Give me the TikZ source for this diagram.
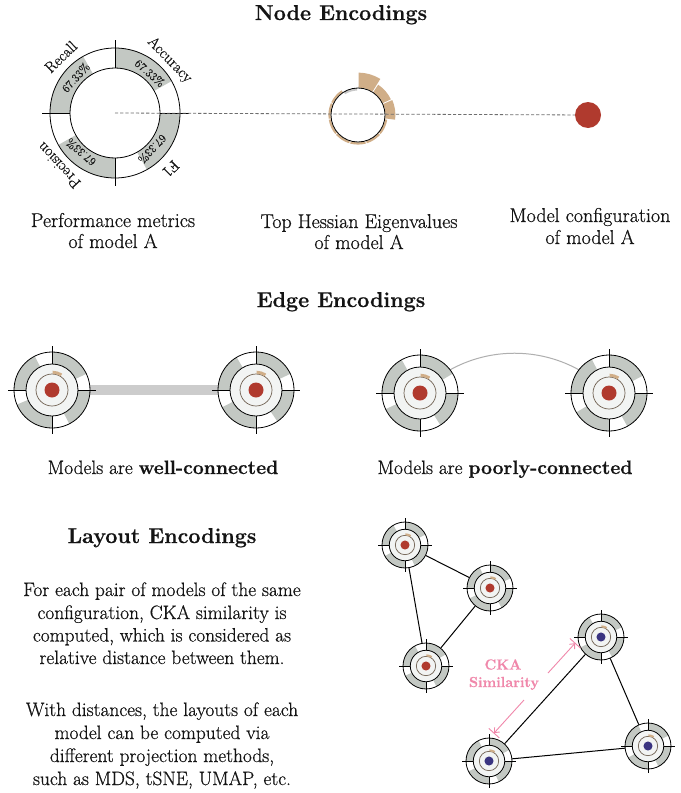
\documentclass[tikz,border=0pt]{standalone}
\usepackage{fontspec}
\setmainfont{Latin Modern Roman}[FakeBold=0.6]
\usetikzlibrary{arrows.meta,calc}
\definecolor{segfill}{RGB}{195,200,195}
\definecolor{innerfill}{RGB}{242,244,243}
\definecolor{tanbar}{RGB}{208,174,136}
\definecolor{reddot}{RGB}{176,58,46}
\definecolor{bluedot}{RGB}{58,52,128}
\definecolor{ckapink}{RGB}{240,135,170}
\definecolor{edgegray}{RGB}{204,204,204}
\definecolor{curvegray}{RGB}{175,175,175}
\definecolor{dashgray}{RGB}{110,110,110}
\definecolor{hessgray}{RGB}{200,200,200}
\definecolor{hessline}{RGB}{110,95,80}
\definecolor{txt}{RGB}{20,20,20}
\pgfdeclarelayer{bg}
\pgfsetlayers{bg,main}
\newcommand{\titlefont}{\fontsize{21.5bp}{25bp}\selectfont\bfseries}
\newcommand{\capfont}{\fontsize{20bp}{24bp}\selectfont}
\newcommand{\bodyfont}{\fontsize{19.4bp}{23bp}\selectfont}
\newcommand{\mnode}[9]{%
  \begin{scope}[shift={(#2,-#3)}, scale=#4]
    \fill[white] (0,0) circle (38);
    \foreach \q/\f in {90/#5, 0/#6, -90/#7, 180/#8} {
      \pgfmathsetmacro\qe{\q-90*\f}
      \fill[segfill] (\q:26) arc[start angle=\q, end angle=\qe, radius=26]
        -- (\qe:38) arc[start angle=\qe, end angle=\q, radius=38] -- cycle;
    }
    \fill[innerfill] (0,0) circle (26);
    \draw[ring] (0,0) circle (38) (0,0) circle (26);
    \draw[ring] (0,26) -- (0,44) (0,-26) -- (0,-44) (26,0) -- (44,0) (-26,0) -- (-44,0);
    \draw[hessline, line width=0.7bp] (0,0) circle (16);
    \fill[tanbar] (88:16.3) arc[start angle=88, end angle=58, radius=16.3]
      -- (58:19.3) arc[start angle=58, end angle=88, radius=19.3] -- cycle;
    \fill[#9] (0,0) circle (7.5);
  \end{scope}
  \pgfmathsetmacro\nsz{76*#4}
  \node[circle, minimum size=\nsz bp, inner sep=0pt] (#1) at (#2,-#3) {};
}
\begin{document}
\begin{tikzpicture}[x=1bp, y=1bp,
  ring/.style={black, line width=0.8bp},
  ttl/.style={anchor=base, text=txt, font=\titlefont, inner sep=0pt},
  captxt/.style={anchor=base, text=txt, font=\capfont, inner sep=0pt},
  bodytxt/.style={anchor=base, text=txt, font=\bodyfont, inner sep=0pt},
  lab/.style={text=txt, font=\fontsize{15.5bp}{18bp}\selectfont, inner sep=0pt},
  pct/.style={text=txt, font=\fontsize{11.5bp}{14bp}\selectfont, inner sep=0pt},
  layedge/.style={black, line width=1bp},
  cka/.style={ckapink, line width=0.9bp}]
\begin{pgfonlayer}{bg}
  \fill[white] (0,0) rectangle (681,-793);
\end{pgfonlayer}
\useasboundingbox (0,0) rectangle (681,-793);

% ---------------- Node encodings ----------------
\node[ttl] (t1) at (341,-20) {Node Encodings};

% performance metrics ring
\begin{scope}[shift={(115,-113)}]
  \fill[white] (0,0) circle (65);
  \foreach \q in {90,0,-90,180} {
    \pgfmathsetmacro\qe{\q-90*0.6733}
    \fill[segfill] (\q:45) arc[start angle=\q, end angle=\qe, radius=45]
      -- (\qe:65) arc[start angle=\qe, end angle=\q, radius=65] -- cycle;
  }
  \draw[ring] (0,0) circle (65) (0,0) circle (45);
  \draw[ring] (0,45) -- (0,73) (0,-45) -- (0,-73) (45,0) -- (74,0) (-45,0) -- (-73,0);
  \node[lab, rotate=-46] (lacc) at (44:76) {Accuracy};
  \node[lab, rotate=44] (lrec) at (134:78) {Recall};
  \node[lab, rotate=133] (lpre) at (-137:77) {Precision};
  \node[lab, rotate=-135] (lf1) at (-45:79) {F1};
  \node[pct, rotate=-41] (pacc) at (49:53) {67.33\%};
  \node[pct, rotate=48] (prec) at (138:53) {67.33\%};
  \node[pct, rotate=-134] (pf1) at (-44:52) {67.33\%};
  \node[pct, rotate=139] (ppre) at (-131:52) {67.33\%};
\end{scope}
\node[circle, minimum size=130bp, inner sep=0pt] (perf) at (115,-113) {};

% hessian ring
\begin{scope}[shift={(358,-115)}]
  \fill[white] (0,0) circle (27);
  \foreach \h [count=\i from 0] in {15,9,10,2.2,2.2,2.2,2.2,2.2,2.2,2.2} {
    \pgfmathsetmacro\sa{90-\i*32.7273-1}
    \pgfmathsetmacro\ea{\sa-30.7273}
    \pgfmathsetmacro\ro{27.4+\h}
    \fill[tanbar] (\sa:27.4) arc[start angle=\sa, end angle=\ea, radius=27.4]
      -- (\ea:\ro) arc[start angle=\ea, end angle=\sa, radius=\ro] -- cycle;
  }
  \fill[hessgray] (121.7:27) arc[start angle=121.7, end angle=92, radius=27]
    -- (92:24.5) arc[start angle=92, end angle=121.7, radius=24.5] -- cycle;
  \draw[ring] (0,0) circle (27);
\end{scope}
\node[circle, minimum size=54bp, inner sep=0pt] (hess) at (358,-115) {};

% model configuration dot
\node[circle, fill=reddot, minimum size=26bp, inner sep=0pt] (cfg) at (588,-115) {};
\draw[dashgray, line width=0.8bp, dash pattern=on 3.2bp off 2bp] (perf.center) -- (cfg);

\node[captxt] (c1a) at (113,-227) {Performance metrics};
\node[captxt] (c1b) at (113,-248) {of model A};
\node[captxt] (c2a) at (359,-228) {Top Hessian Eigenvalues};
\node[captxt] (c2b) at (359,-249) {of model A};
\node[captxt] (c3a) at (590,-222) {Model configuration};
\node[captxt] (c3b) at (590,-244) {of model A};

% ---------------- Edge encodings ----------------
\node[ttl] (t2) at (341,-307) {Edge Encodings};
\mnode{eL}{52}{390}{1}{0.72}{0.70}{0.75}{0.70}{reddot}
\mnode{eR}{256}{390}{1}{0.72}{0.62}{0.70}{0.66}{reddot}
\mnode{pL}{420}{393}{1}{0.66}{0.64}{0.72}{0.68}{reddot}
\mnode{pR}{609}{393}{1}{0.70}{0.68}{0.66}{0.70}{reddot}
\begin{pgfonlayer}{bg}
  \draw[edgegray, line width=10bp] (eL) -- (eR);
  \draw[curvegray, line width=1bp] (pL.center) to[bend left=46] (pR.center);
\end{pgfonlayer}
\node[bodytxt] (m1) at (163,-474) {Models are \textbf{well-connected}};
\node[bodytxt] (m2) at (505,-474) {Models are \textbf{poorly-connected}};

% ---------------- Layout encodings ----------------
\node[ttl] (t3) at (162,-543) {Layout Encodings};
\node[bodytxt] (b1) at (162,-596) {For each pair of models of the same};
\node[bodytxt] (b2) at (162,-619) {configuration, CKA similarity is};
\node[bodytxt] (b3) at (162,-641.5) {computed, which is considered as};
\node[bodytxt] (b4) at (162,-664) {relative distance between them.};
\node[bodytxt] (b5) at (162,-716) {With distances, the layouts of each};
\node[bodytxt] (b6) at (162,-739) {model can be computed via};
\node[bodytxt] (b7) at (162,-762) {different projection methods,};
\node[bodytxt] (b8) at (162,-785) {such as MDS, tSNE, UMAP, etc.};

\mnode{A}{405}{545}{0.605}{0.70}{0.72}{0.68}{0.66}{reddot}
\mnode{B}{490}{588}{0.605}{0.72}{0.66}{0.70}{0.70}{reddot}
\mnode{C}{426}{666}{0.605}{0.66}{0.70}{0.72}{0.68}{reddot}
\mnode{D}{601}{637}{0.605}{0.72}{0.68}{0.70}{0.66}{bluedot}
\mnode{E}{648}{746}{0.605}{0.70}{0.70}{0.66}{0.72}{bluedot}
\mnode{F}{489}{761}{0.605}{0.68}{0.72}{0.70}{0.70}{bluedot}
\begin{pgfonlayer}{bg}
  \draw[layedge] (A) -- (B);
  \draw[layedge] (A) -- (C);
  \draw[layedge] (B) -- (C);
  \draw[layedge] (D) -- (E);
  \draw[layedge] (E) -- (F);
  \draw[layedge] (F) -- (D);
\end{pgfonlayer}

% CKA similarity dimension line
\coordinate (cu) at (575.1,-643.2);
\coordinate (cm1) at (548,-673);
\coordinate (cm2) at (524,-700);
\coordinate (cl) at (494,-733.1);
\coordinate (cu1) at (569.9,-638.5);
\coordinate (cu2) at (580.3,-647.9);
\coordinate (cl1) at (488.8,-728.4);
\coordinate (cl2) at (499.2,-737.8);
\draw[cka, -{Straight Barb[length=4bp, width=7bp]}] (cm1) -- (cu);
\draw[cka, -{Straight Barb[length=4bp, width=7bp]}] (cm2) -- (cl);
\draw[cka] (cu1) -- (cu2);
\draw[cka] (cl1) -- (cl2);
\node[anchor=base, text=ckapink, font=\fontsize{14.5bp}{17bp}\selectfont\bfseries, inner sep=0pt] (k1) at (503,-669.5) {CKA};
\node[anchor=base, text=ckapink, font=\fontsize{14.5bp}{17bp}\selectfont\bfseries, inner sep=0pt] (k2) at (504,-687) {Similarity};
\end{tikzpicture}
\end{document}
